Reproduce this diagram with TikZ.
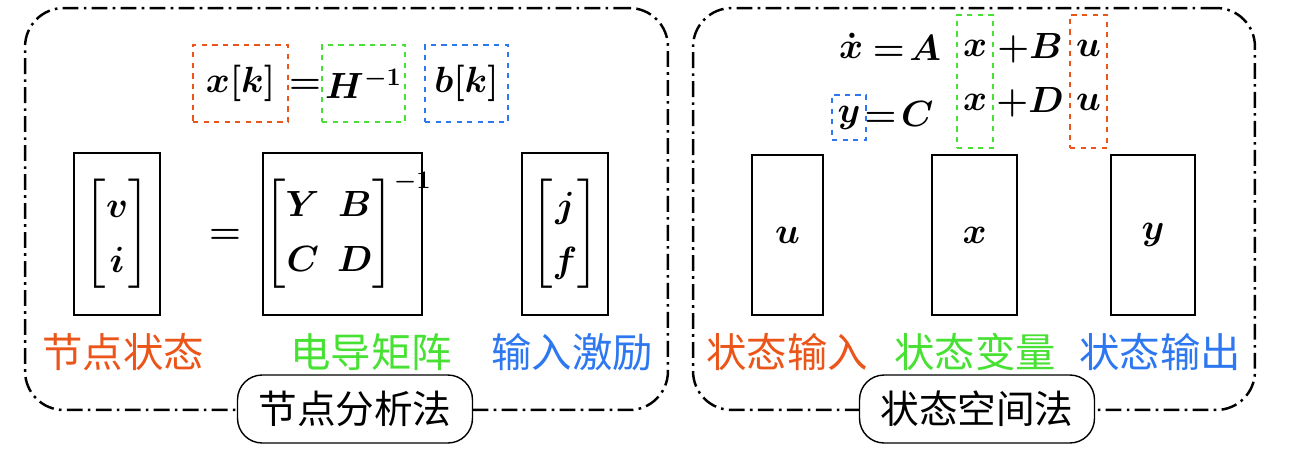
\documentclass[tikz,border=0pt]{standalone}
\usepackage{amsmath}
\usepackage{fontspec}
\newfontfamily\cjk{Noto Sans CJK SC}
\definecolor{cor}{RGB}{235,85,25}
\definecolor{cgr}{RGB}{70,225,50}
\definecolor{cbl}{RGB}{45,120,240}
\tikzset{
 panel/.style={draw,line width=1.4pt,dash pattern=on 9pt off 3pt on 1.5pt off 3pt,rounded corners=22pt},
 tag/.style={draw,thick,fill=white,rounded corners=14pt,minimum width=4.7cm,minimum height=1.36cm,font=\cjk\fontsize{22}{22}\selectfont},
 dbox/.style={draw,thick,dashed},
 sbox/.style={draw,thick},
 lab/.style={font=\cjk\fontsize{23}{23}\selectfont},
 m/.style={inner sep=0pt,font=\fontsize{22}{24}\selectfont\boldmath}
}
\begin{document}
\begin{tikzpicture}[x=0.02cm,y=-0.02cm]
\useasboundingbox (0,0) rectangle (1307,457);
\renewcommand{\arraystretch}{1.3}
% left panel
\node[panel,minimum width=12.86cm,minimum height=8.04cm] (lp) at (346.5,209) {};
\node[tag] (lt) at (355,409) {节点分析法};
\node[dbox,cor,minimum width=1.9cm,minimum height=1.54cm] (xk) at (240.5,83.5) {};
\node[m] at (xk) {$x[k]$};
\node[m] (eq1) at (305,86) {$=$};
\node[dbox,cgr,minimum width=1.66cm,minimum height=1.54cm] (hk) at (363.5,83.5) {};
\node[m] at (hk) {$H^{-1}$};
\node[dbox,cbl,minimum width=1.66cm,minimum height=1.54cm] (bk) at (466.5,83.5) {};
\node[m] at (bk) {$b[k]$};
\node[sbox,minimum width=1.72cm,minimum height=3.24cm] (b1) at (117,234) {};
\node[m] at (b1) {$\begin{bmatrix} v\\ i\end{bmatrix}$};
\node[m] (eq2) at (225,236) {$=$};
\node[sbox,minimum width=3.18cm,minimum height=3.24cm] (b2) at (342.5,234) {};
\node[m] at (348,230) {$\begin{bmatrix} Y & B\\ C & D\end{bmatrix}^{-1}$};
\node[sbox,minimum width=1.72cm,minimum height=3.24cm] (b3) at (565,234) {};
\node[m] at (b3) {$\begin{bmatrix} j\\ f\end{bmatrix}$};
\node[lab,cor] (l1) at (123,352) {节点状态};
\node[lab,cgr] (l2) at (371,352) {电导矩阵};
\node[lab,cbl] (l3) at (572,352) {输入激励};
% right panel
\node[panel,minimum width=11.24cm,minimum height=8.04cm] (rp) at (974,209) {};
\node[tag] (rt) at (977,409) {状态空间法};
\node[m] (xd) at (851,46) {$\dot{x}$};
\node[m] (ea) at (907,48) {$=\!A$};
\node[dbox,cgr,minimum width=0.72cm,minimum height=2.66cm] (gx) at (975,81.5) {};
\node[m] at (975,48) {$x$};
\node[m] at (975,102) {$x$};
\node[m] (pb) at (1030,48) {$+B$};
\node[m] (pd) at (1030,102) {$+D$};
\node[dbox,cor,minimum width=0.74cm,minimum height=2.66cm] (ou) at (1088.5,81.5) {};
\node[m] at (1088.5,48) {$u$};
\node[m] at (1088.5,102) {$u$};
\node[dbox,cbl,minimum width=0.68cm,minimum height=0.9cm] (yy) at (849,117.5) {};
\node[m] at (yy) {$y$};
\node[m] (ec) at (899,114) {$=\!C$};
\node[sbox,minimum width=1.42cm,minimum height=3.2cm] (r1) at (787.5,235) {};
\node[m] at (r1) {$u$};
\node[sbox,minimum width=1.7cm,minimum height=3.2cm] (r2) at (974.5,235) {};
\node[m] at (r2) {$x$};
\node[sbox,minimum width=1.68cm,minimum height=3.2cm] (r3) at (1153,235) {};
\node[m] at (r3) {$y$};
\node[lab,cor] (s1) at (787,352) {状态输入};
\node[lab,cgr] (s2) at (975,352) {状态变量};
\node[lab,cbl] (s3) at (1160,352) {状态输出};
\end{tikzpicture}
\end{document}
